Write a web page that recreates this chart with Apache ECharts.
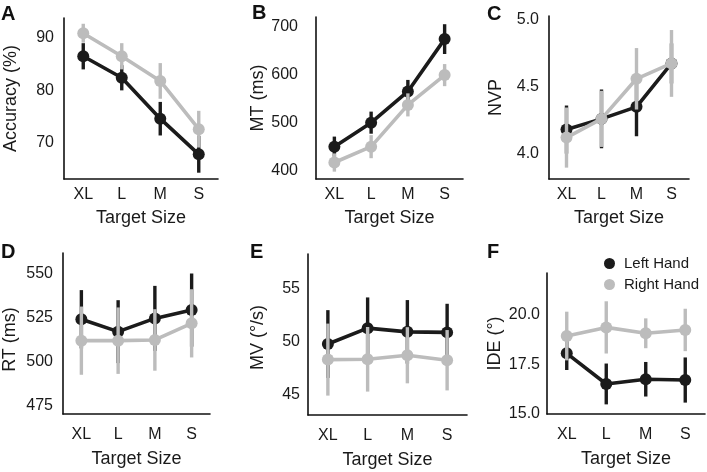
<!DOCTYPE html>
<html>
<head>
<meta charset="utf-8">
<script src="https://cdn.jsdelivr.net/npm/echarts@6/dist/echarts.min.js"></script>
<style>html,body{margin:0;padding:0;background:#fff;}#chart{width:707px;height:472px;}</style>
</head>
<body>
<div id="chart"></div>
<script>
// ---- data ----
const categories = ['XL', 'L', 'M', 'S'];
const seriesNames = ['Left Hand', 'Right Hand'];
const panelLetters = ['A', 'B', 'C', 'D', 'E', 'F'];
const yAxisNames = ['Accuracy (%)', 'MT (ms)', 'NVP', 'RT (ms)', 'MV (°/s)', 'IDE (°)'];
const xAxisName = 'Target Size';

const accLeft = [86.5, 82.4, 74.6, 67.8];
const accLeftErr = [2.5, 2.4, 3.2, 3.5];
const accRight = [90.9, 86.5, 81.8, 72.6];
const accRightErr = [1.8, 2.5, 3.4, 3.5];

const mtLeft = [450, 500, 565, 674];
const mtLeftErr = [21, 23, 24, 31];
const mtRight = [417, 450, 537, 599];
const mtRightErr = [19, 24, 24, 23];

const nvpLeft = [4.18, 4.26, 4.35, 4.675];
const nvpLeftErr = [0.18, 0.22, 0.22, 0.15];
const nvpRight = [4.12, 4.26, 4.56, 4.675];
const nvpRightErr = [0.225, 0.21, 0.23, 0.25];

const rtLeft = [524.1, 517.1, 524.6, 529.3];
const rtLeftErr = [16.5, 17.8, 18.4, 20.7];
const rtRight = [512, 512, 512.4, 521.8];
const rtRightErr = [19.3, 18.8, 17.4, 19.3];

const mvLeft = [49.8, 51.3, 50.95, 50.9];
const mvLeftErr = [3.2, 2.9, 3.0, 2.7];
const mvRight = [48.33, 48.36, 48.74, 48.27];
const mvRightErr = [3.4, 3.05, 2.65, 2.85];

const ideLeft = [18.05, 16.49, 16.73, 16.69];
const ideLeftErr = [0.85, 1.04, 0.88, 1.15];
const ideRight = [18.93, 19.37, 19.07, 19.24];
const ideRightErr = [1.24, 1.33, 0.76, 1.08];

const accTicks = [70, 80, 90];
const mtTicks = [400, 500, 600, 700];
const nvpTicks = [4.0, 4.5, 5.0];
const rtTicks = [475, 500, 525, 550];
const mvTicks = [45, 50, 55];
const ideTicks = [15.0, 17.5, 20.0];

// ---- layout / style ----
const BLACK = '#1b1b1b';
const GRAY = '#bcbcbc';
const TEXT = '#1a1a1a';
const FONT = '"Liberation Sans", Arial, Helvetica, sans-serif';

const panels = [
  {left: accLeft, leftErr: accLeftErr, right: accRight, rightErr: accRightErr, ticks: accTicks, dec: 0,
   grid: {left: 64, top: 18, width: 154, height: 161}, min: 63.1, max: 93.8, yMargin: 10, yNameGap: 44, yNamePad: [0, 0, 0, 0], xMargin: 8, xNameGap: 30, letter: [1, 14]},
  {left: mtLeft, leftErr: mtLeftErr, right: mtRight, rightErr: mtRightErr, ticks: mtTicks, dec: 0,
   grid: {left: 316, top: 17, width: 147, height: 162}, min: 382.7, max: 720, yMargin: 18, yNameGap: 48, yNamePad: [0, 0, 0, 0], xMargin: 8, xNameGap: 30, letter: [252, 13.5]},
  {left: nvpLeft, leftErr: nvpLeftErr, right: nvpRight, rightErr: nvpRightErr, ticks: nvpTicks, dec: 1,
   grid: {left: 549, top: 16, width: 140, height: 163}, min: 3.81, max: 5.03, yMargin: 10, yNameGap: 44, yNamePad: [0, 0, 0, 0], xMargin: 8, xNameGap: 30, letter: [487, 14]},
  {left: rtLeft, leftErr: rtLeftErr, right: rtRight, rightErr: rtRightErr, ticks: rtTicks, dec: 0,
   grid: {left: 63, top: 253, width: 147, height: 161}, min: 470.5, max: 561.6, yMargin: 10, yNameGap: 44, yNamePad: [0, 12, 0, 0], xMargin: 13, xNameGap: 36, letter: [1, 252.5]},
  {left: mvLeft, leftErr: mvLeftErr, right: mvRight, rightErr: mvRightErr, ticks: mvTicks, dec: 0,
   grid: {left: 308, top: 254, width: 159, height: 161}, min: 43.1, max: 58.3, yMargin: 8, yNameGap: 41, yNamePad: [0, 6, 0, 0], xMargin: 13, xNameGap: 36, letter: [250, 252]},
  {left: ideLeft, leftErr: ideLeftErr, right: ideRight, rightErr: ideRightErr, ticks: ideTicks, dec: 1,
   grid: {left: 547, top: 273, width: 158, height: 141}, min: 14.96, max: 22.14, yMargin: 7, yNameGap: 43, yNamePad: [0, 0, 0, 0], xMargin: 13, xNameGap: 36, letter: [487, 252]}
];

function errData(vals, errs) {
  return vals.map((v, j) => [j, v - errs[j], v + errs[j]]);
}
function errRender(color) {
  return function (params, api) {
    const x = api.value(0);
    const p1 = api.coord([x, api.value(1)]);
    const p2 = api.coord([x, api.value(2)]);
    return {
      type: 'line',
      shape: {x1: p1[0], y1: p1[1], x2: p2[0], y2: p2[1]},
      style: {stroke: color, lineWidth: 3.4}
    };
  };
}

const grids = [], xAxes = [], yAxes = [], series = [], graphics = [];
panels.forEach((p, i) => {
  grids.push(Object.assign({containLabel: false}, p.grid));
  xAxes.push({
    type: 'category', gridIndex: i, data: categories, boundaryGap: true,
    name: xAxisName, nameLocation: 'middle', nameGap: p.xNameGap,
    nameTextStyle: {fontSize: 18, color: TEXT, fontFamily: FONT},
    axisLine: {lineStyle: {color: '#111', width: 1.6}},
    axisTick: {show: false},
    axisLabel: {fontSize: 16, color: TEXT, fontFamily: FONT, margin: p.xMargin, interval: 0},
    splitLine: {show: false}
  });
  yAxes.push({
    type: 'value', gridIndex: i, min: p.min, max: p.max,
    name: yAxisNames[i], nameLocation: 'middle', nameGap: p.yNameGap,
    nameTextStyle: {fontSize: 18, color: TEXT, fontFamily: FONT, padding: p.yNamePad},
    axisLine: {show: true, lineStyle: {color: '#111', width: 1.6}},
    axisTick: {show: false},
    axisLabel: {
      fontSize: 16, color: TEXT, fontFamily: FONT, margin: p.yMargin,
      customValues: p.ticks,
      formatter: (v) => Number(v).toFixed(p.dec)
    },
    splitLine: {show: false}
  });
  series.push({
    type: 'custom', name: 'errL' + i, xAxisIndex: i, yAxisIndex: i, z: 1,
    data: errData(p.left, p.leftErr), encode: {x: 0, y: [1, 2]},
    renderItem: errRender(BLACK), silent: true
  });
  series.push({
    type: 'line', name: seriesNames[0], xAxisIndex: i, yAxisIndex: i, z: 2,
    data: p.left, symbol: 'circle', symbolSize: 12, showSymbol: true,
    itemStyle: {color: BLACK}, lineStyle: {color: BLACK, width: 3.6}, silent: true
  });
  series.push({
    type: 'custom', name: 'errR' + i, xAxisIndex: i, yAxisIndex: i, z: 3,
    data: errData(p.right, p.rightErr), encode: {x: 0, y: [1, 2]},
    renderItem: errRender(GRAY), silent: true
  });
  series.push({
    type: 'line', name: seriesNames[1], xAxisIndex: i, yAxisIndex: i, z: 4,
    data: p.right, symbol: 'circle', symbolSize: 12, showSymbol: true,
    itemStyle: {color: GRAY}, lineStyle: {color: GRAY, width: 3.6}, silent: true
  });
  graphics.push({
    type: 'text', left: p.letter[0], top: p.letter[1] - 10,
    style: {text: panelLetters[i], fontSize: 20, fontWeight: 'bold', fill: '#111', fontFamily: FONT}
  });
});

const chart = echarts.init(document.getElementById('chart'), null, {renderer: 'canvas'});
chart.setOption({
  backgroundColor: '#fff',
  animation: false,
  textStyle: {fontFamily: FONT},
  grid: grids,
  xAxis: xAxes,
  yAxis: yAxes,
  series: series,
  graphic: graphics,
  legend: {
    data: seriesNames, orient: 'vertical', left: 599, top: 251,
    icon: 'circle', itemWidth: 11, itemHeight: 11, itemGap: 6,
    textStyle: {fontSize: 15, color: TEXT, fontFamily: FONT, padding: [0, 0, 0, 4]},
    selectedMode: false
  },
  tooltip: {show: false}
});
</script>
</body>
</html>
